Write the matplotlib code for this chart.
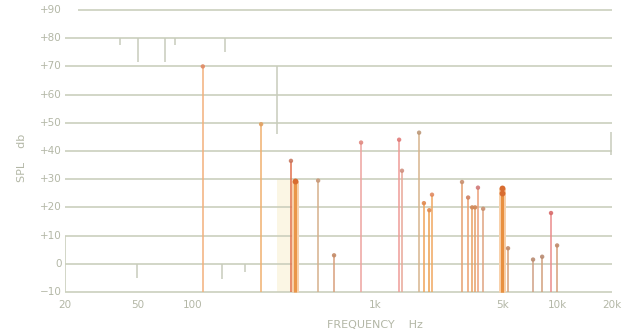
import matplotlib
matplotlib.use("Agg")
import matplotlib.pyplot as plt
import numpy as np

# ---------------- data ----------------
# spectral lines: frequency (Hz) and SPL (dB)
line_freq = [114, 238, 347, 489, 598, 841, 1360, 1410, 1750, 1860, 1990, 2060,
             3010, 3250, 3420, 3550, 3680, 3930, 5380, 7380, 8280, 9260, 10000]
line_spl = [70, 49.5, 36.5, 29.5, 3, 43, 44, 33, 46.5, 21.5, 19, 24.5,
            29, 23.5, 20, 20, 27, 19.5, 5.5, 1.5, 2.5, 18, 6.5]

# heavy (clustered) lines
heavy_freq = [365, 4990, 5000]
heavy_spl = [29.5, 27, 25]

# faint grey marks printed on the sheet: frequency, from dB, to dB
grey_freq = [40, 50.3, 70.7, 80.3, 151, 291, 49.7, 145, 194, 19800, 20400]
grey_from = [80, 80, 80, 80, 80, 70, 0, 0, 0, 46.7, 46.7]
grey_to = [77.6, 71.6, 71.6, 77.6, 75.1, 46, -5, -5.3, -2.8, 38.6, 38.6]

# pale band behind the 365 Hz cluster (Hz)
band_freq = [292, 380]
band_spl = [-10, 30]

y_levels = [90, 80, 70, 60, 50, 40, 30, 20, 10, 0, -10]
y_labels = ["+90", "+80", "+70", "+60", "+50", "+40", "+30", "+20", "+10", "0", "−10"]
x_ticks = [20, 50, 100, 1000, 5000, 10000, 20000]
x_labels = ["20", "50", "100", "1k", "5k", "10k", "20k"]

# ---------------- styles ----------------
line_colors = ["#f3b07c", "#f0b070", "#e2704c", "#d6b08c", "#d9a07c", "#eea4a0",
               "#ef9c98", "#e8a898", "#d8b48e", "#f0a45a", "#eca050", "#f0a860",
               "#e6a070", "#eca070", "#e9a060", "#e6a068", "#eca078", "#dfa480",
               "#d6a078", "#cfa084", "#d2a07c", "#eb8c8c", "#d6a07a"]
dot_colors = ["#e08a64", "#e2a060", "#c87860", "#c89878", "#c48a66", "#e08880",
              "#e07a78", "#d09080", "#bc9878", "#e08a50", "#e08a50", "#e08a60",
              "#c89070", "#d08060", "#d08858", "#d08858", "#d07878", "#c89070",
              "#c08a6a", "#b88a70", "#b88a70", "#d86a6a", "#c08a6a"]
grid_color = "#cbcfbd"
text_color = "#b3b7a6"

fig = plt.figure(figsize=(6.33, 3.36), dpi=100)
ax = fig.add_axes([65 / 633, 41.2 / 336, 547 / 633, 287.6 / 336])
ax.set_xscale("log")
ax.set_xlim(20, 20000)
ax.set_ylim(-11, 91)
for s in ax.spines.values():
    s.set_visible(False)
ax.set_xticks([])
ax.set_yticks([])
ax.minorticks_off()

# pale band
ax.fill_between(band_freq, band_spl[0], band_spl[1], color="#fbf6e4", zorder=0, lw=0)

# grid lines (top line starts a little to the right)
for lv in y_levels:
    x0 = 23.5 if lv == 90 else 20
    ax.hlines(lv, x0, 20400, color=grid_color, lw=1.2, zorder=1)
# left axis stub
ax.vlines(20, -10, 10, color=grid_color, lw=1.2, zorder=1)

# grey marks
ax.vlines(grey_freq, grey_from, grey_to, color="#c8ccbc", lw=1.1, zorder=1)

# spectral lines
ax.vlines(line_freq, -10, line_spl, colors=line_colors, lw=1.3, alpha=0.85, zorder=3)
ax.scatter(line_freq, line_spl, s=10, c=dot_colors, zorder=4, lw=0, alpha=0.9)

# heavy lines
ax.vlines(heavy_freq, -10, heavy_spl, colors="#f8d0aa", lw=5, zorder=2)
ax.vlines(heavy_freq, -10, heavy_spl, colors="#e8903f", lw=2.2, alpha=0.9, zorder=3)
ax.scatter(heavy_freq, heavy_spl, s=18, c="#d86c30", zorder=4, lw=0)

# y tick labels
for lv, lab in zip(y_levels, y_labels):
    ax.text(-0.006, lv, lab, transform=ax.get_yaxis_transform(), ha="right",
            va="center", fontsize=7.5, color=text_color)
# x tick labels
for f, lab in zip(x_ticks, x_labels):
    ax.text(f, -0.018, lab, transform=ax.get_xaxis_transform(), ha="center",
            va="top", fontsize=7.5, color=text_color)

fig.text(375 / 633, 1 - 325 / 336, "FREQUENCY    Hz", ha="center", va="center",
         fontsize=8, color=text_color)
fig.text(22 / 633, 1 - 158 / 336, "SPL    db", ha="center", va="center",
         rotation=90, fontsize=8, color=text_color)

fig.savefig("out.png", dpi=100)
